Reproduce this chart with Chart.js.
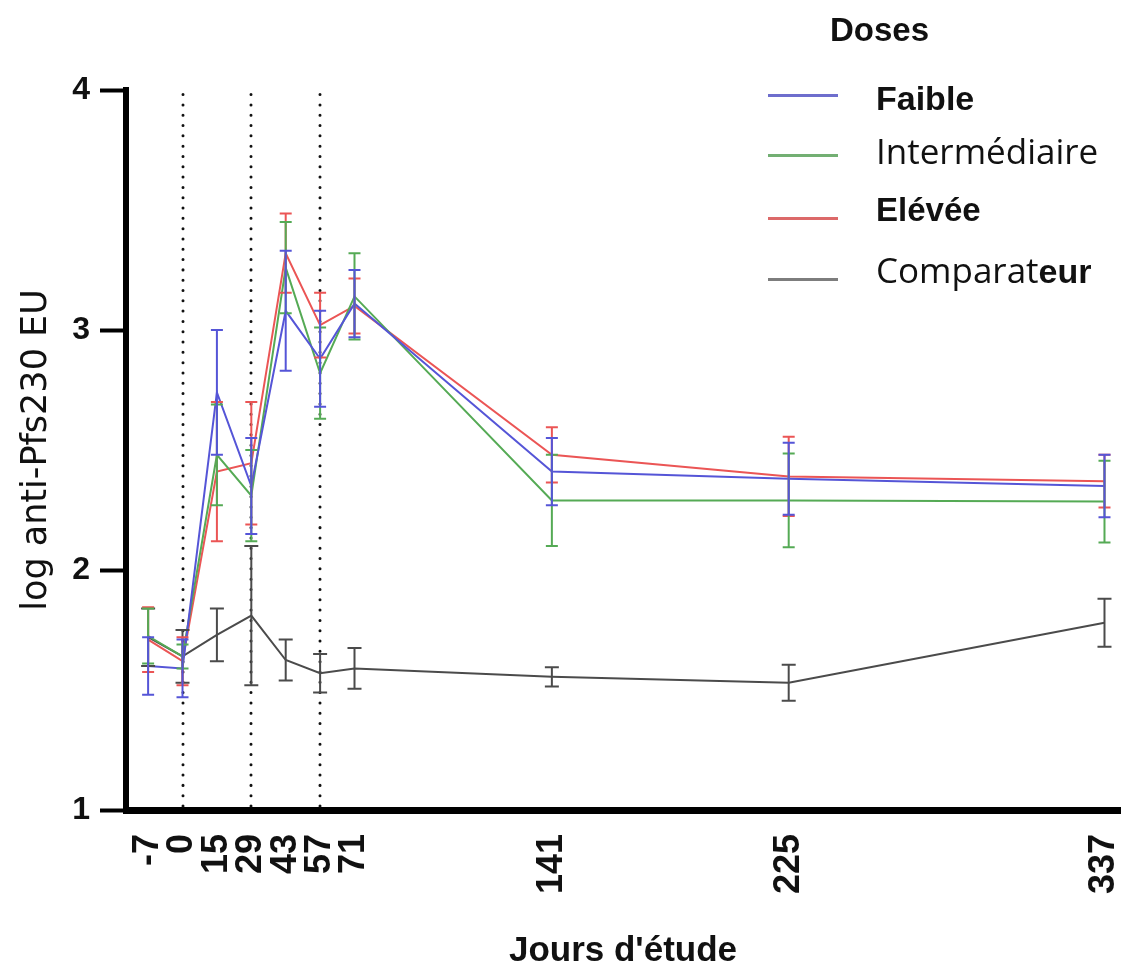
<!DOCTYPE html>
<html>
<head>
<meta charset="utf-8">
<script src="https://cdn.jsdelivr.net/npm/chart.js@4.4.1/dist/chart.umd.min.js"></script>
<style>
  html, body { margin: 0; padding: 0; background: #fff; }
  #wrap { position: relative; width: 1137px; height: 974px; }
  #c { position: absolute; left: 0; top: 0; }
  #legend { position: absolute; left: 0; top: 0; width: 1137px; height: 974px; pointer-events: none; }
  .ttl { position: absolute; left: 830px; top: 10px; font: bold 33px "Liberation Sans", Arial, sans-serif; line-height: 40px; color: #111; }
  .sw { position: absolute; left: 768px; width: 70px; height: 3px; }
  .lb { position: absolute; left: 876px; line-height: 40px; color: #111; white-space: nowrap; }
</style>
</head>
<body>
<div id="wrap">
  <canvas id="c" width="1137" height="974"></canvas>
  <div id="legend"></div>
</div>
<script>
// ---- data ----
const days = [-7, 0, 15, 29, 43, 57, 71, 141, 225, 337];
const vaccinationDays = [0, 29, 57];

const seriesLabels = ['Faible', 'Intermédiaire', 'Elévée', 'Comparateur'];

const faible     = [1.60, 1.59, 2.74, 2.35, 3.08, 2.88, 3.11, 2.41, 2.38, 2.35];
const faibleErr  = [0.12, 0.12, 0.26, 0.20, 0.25, 0.20, 0.14, 0.14, 0.15, 0.13];

const inter      = [1.725, 1.64, 2.48, 2.31, 3.26, 2.82, 3.14, 2.29, 2.29, 2.285];
const interErr   = [0.115, 0.05, 0.21, 0.19, 0.19, 0.19, 0.18, 0.19, 0.195, 0.17];

const elevee     = [1.71, 1.62, 2.41, 2.445, 3.32, 3.02, 3.10, 2.48, 2.39, 2.37];
const eleveeErr  = [0.135, 0.10, 0.29, 0.255, 0.165, 0.135, 0.115, 0.115, 0.165, 0.11];

const comp       = [1.72, 1.64, 1.73, 1.81, 1.625, 1.57, 1.59, 1.555, 1.53, 1.78];
const compErr    = [0.12, 0.11, 0.11, 0.29, 0.085, 0.08, 0.085, 0.04, 0.075, 0.10];

const yTicks = [1, 2, 3, 4];

// ---- styles ----
const colors = ['rgb(85,85,215)', 'rgb(85,170,85)', 'rgb(235,85,85)', 'rgb(75,75,75)'];
const legendColors = ['rgb(110,110,205)', 'rgb(115,175,115)', 'rgb(220,105,105)', 'rgb(125,125,125)'];

// Study-day axis: the early visits (up to day 71) are drawn at equal spacing,
// later visits on a linear day scale (as in the reference figure).
class StudyDayScale extends Chart.LinearScale {
  warp(v) {
    const ev = this.options.evenDays, dps = this.options.daysPerSlot, n = ev.length;
    if (v <= ev[0]) return (v - ev[0]) / (ev[1] - ev[0]);
    for (let i = 0; i < n - 1; i++) {
      if (v <= ev[i + 1]) return i + (v - ev[i]) / (ev[i + 1] - ev[i]);
    }
    return (n - 1) + (v - ev[n - 1]) / dps;
  }
  unwarp(u) {
    const ev = this.options.evenDays, dps = this.options.daysPerSlot, n = ev.length;
    if (u <= 0) return ev[0] + u * (ev[1] - ev[0]);
    if (u >= n - 1) return ev[n - 1] + (u - (n - 1)) * dps;
    const i = Math.floor(u);
    return ev[i] + (u - i) * (ev[i + 1] - ev[i]);
  }
  getPixelForValue(v) {
    if (v === null || v === undefined || isNaN(v)) return NaN;
    const a = this.warp(this.min), b = this.warp(this.max);
    return this.getPixelForDecimal((this.warp(v) - a) / (b - a));
  }
  getValueForPixel(p) {
    const a = this.warp(this.min), b = this.warp(this.max);
    return this.unwarp(a + this.getDecimalForPixel(p) * (b - a));
  }
}
StudyDayScale.id = 'studyday';
StudyDayScale.defaults = {};
Chart.register(StudyDayScale);

function pts(vals) { return days.map((d, i) => ({ x: d, y: vals[i] })); }

const valueSets = [faible, inter, elevee, comp];
const errSets = [faibleErr, interErr, eleveeErr, compErr];

const datasets = valueSets.map((vals, k) => ({
  label: seriesLabels[k],
  data: pts(vals),
  errors: errSets[k],
  borderColor: colors[k],
  backgroundColor: colors[k],
  borderWidth: 2,
  pointRadius: 0,
  tension: 0,
  fill: false,
  capHalf: k === 3 ? 7 : 6
}));

const overlays = {
  id: 'overlays',
  beforeDatasetsDraw(chart) {
    const { ctx, chartArea, scales: { x, y } } = chart;
    ctx.save();
    ctx.strokeStyle = '#111';
    ctx.lineWidth = 3;
    ctx.lineCap = 'round';
    ctx.setLineDash([0.01, 10.3]);
    vaccinationDays.forEach(d => {
      const px = Math.round(x.getPixelForValue(d));
      ctx.beginPath();
      ctx.moveTo(px, chartArea.bottom - 4);
      ctx.lineTo(px, y.getPixelForValue(4) - 2);
      ctx.stroke();
    });
    ctx.restore();
  },
  afterDatasetsDraw(chart) {
    const { ctx, scales: { x, y } } = chart;
    ctx.save();
    ctx.setLineDash([]);
    chart.data.datasets.slice().reverse().forEach(ds => {
      ctx.strokeStyle = ds.borderColor;
      ctx.lineWidth = 2;
      ds.data.forEach((p, i) => {
        const e = ds.errors[i];
        const px = x.getPixelForValue(p.x);
        const top = y.getPixelForValue(p.y + e);
        const bot = y.getPixelForValue(p.y - e);
        const h = ds.capHalf;
        ctx.beginPath();
        ctx.moveTo(px, top); ctx.lineTo(px, bot);
        ctx.moveTo(px - h, top); ctx.lineTo(px + h, top);
        ctx.moveTo(px - h, bot); ctx.lineTo(px + h, bot);
        ctx.stroke();
      });
    });
    ctx.restore();
  }
};

new Chart(document.getElementById('c'), {
  type: 'line',
  data: { datasets },
  options: {
    responsive: false,
    animation: false,
    events: [],
    layout: { padding: { top: 90, right: 17, left: 0, bottom: 0 } },
    plugins: { legend: { display: false }, tooltip: { enabled: false } },
    scales: {
      x: {
        type: 'studyday',
        evenDays: days.filter(d => d <= 71),
        daysPerSlot: 12.2,
        min: -11.5,
        max: 342.5,
        afterBuildTicks: s => { s.ticks = days.map(v => ({ value: v })); },
        afterFit: s => { s.height = 164; s.paddingLeft = 0; s.paddingRight = 0; },
        grid: { display: true, drawOnChartArea: false, drawTicks: false },
        border: { display: true, width: 7, color: '#000' },
        ticks: {
          autoSkip: false,
          maxRotation: 90,
          minRotation: 90,
          padding: 24,
          color: '#111',
          font: { family: '"Liberation Sans", Arial, sans-serif', size: 36, weight: 'bold' },
          callback: v => String(v)
        },
        title: {
          display: true,
          text: "Jours d'étude",
          color: '#111',
          padding: { top: 0, bottom: 2 },
          font: { family: '"Liberation Sans", Arial, sans-serif', size: 35, weight: 'bold' }
        }
      },
      y: {
        type: 'linear',
        min: 1,
        max: 4,
        afterBuildTicks: s => { s.ticks = yTicks.map(v => ({ value: v })); },
        afterFit: s => { s.width = 126; s.paddingTop = 0; s.paddingBottom = 0; },
        grid: { display: true, drawOnChartArea: false, drawTicks: true, tickLength: 26, tickWidth: 4, tickColor: '#000' },
        border: { display: true, width: 6, color: '#000' },
        ticks: {
          padding: 10,
          color: '#111',
          font: { family: '"Liberation Sans", Arial, sans-serif', size: 32, weight: 'bold' },
          callback: v => String(v)
        },
        title: {
          display: true,
          text: 'log anti-Pfs230 EU',
          color: '#111',
          padding: { top: 16, bottom: 0 },
          font: { family: '"DejaVu Sans", sans-serif', size: 35, weight: 'normal' }
        }
      }
    }
  },
  plugins: [overlays]
});

// ---- legend (HTML text) ----
const lg = document.getElementById('legend');
const ttl = document.createElement('div');
ttl.className = 'ttl';
ttl.textContent = 'Doses';
lg.appendChild(ttl);
const legendRows = [
  { line: 95,  top: 78,  font: 'bold 34px "Liberation Sans", Arial, sans-serif', text: 'Faible' },
  { line: 155, top: 131, font: '35px "Open Sans", sans-serif', text: 'Intermédiaire' },
  { line: 218, top: 190, font: 'bold 33px "Liberation Sans", Arial, sans-serif', text: 'Elévée' },
  { line: 279, top: 250, font: '35px "Open Sans", sans-serif', text: 'Comparat', boldTail: 'eur' }
];
legendRows.forEach((r, k) => {
  const sw = document.createElement('div');
  sw.className = 'sw';
  sw.style.top = (r.line - 1) + 'px';
  sw.style.background = legendColors[k];
  lg.appendChild(sw);
  const lb = document.createElement('div');
  lb.className = 'lb';
  lb.style.top = r.top + 'px';
  lb.style.font = r.font;
  lb.style.lineHeight = '40px';
  lb.appendChild(document.createTextNode(r.text));
  if (r.boldTail) {
    const b = document.createElement('span');
    b.style.font = 'bold 34px "Liberation Sans", Arial, sans-serif';
    b.textContent = r.boldTail;
    lb.appendChild(b);
  }
  lg.appendChild(lb);
});
</script>
</body>
</html>
